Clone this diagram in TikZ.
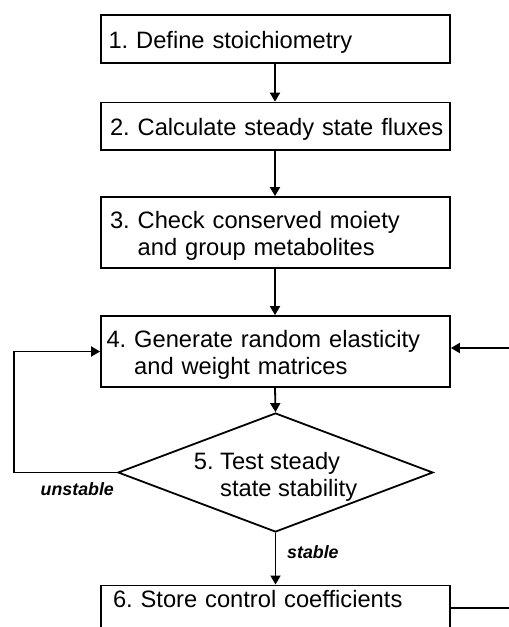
\documentclass[tikz,border=0pt]{standalone}
\usepackage{fontspec}
\setmainfont{Liberation Sans}
\usetikzlibrary{arrows.meta,shapes.geometric}
\frenchspacing
\begin{document}
\begin{tikzpicture}[x=1pt,y=-1pt,
  lw/.style={line width=1.8pt},
  box/.style={draw,lw,rectangle,align=left,text width=#1,inner ysep=0pt,font=\fontsize{23.7}{27}\selectfont\frenchspacing},
  box/.default=333pt,
  arr/.style={lw,-{Triangle[width=10pt,length=9pt]}},
  conn/.style={lw},
  lab/.style={font=\fontsize{17.8}{20}\selectfont\bfseries\itshape,inner sep=0pt,anchor=base west}]
\useasboundingbox (0,0) rectangle (509,627);

\node[box=334pt,inner xsep=7.5pt,minimum height=48pt,text height=19pt,text depth=0pt] (b1) at (275.5,39) {1. Define stoichiometry};
\node[box=331pt,inner xsep=9pt,minimum height=47.5pt,text height=19pt,text depth=0pt] (b2) at (275.5,126.3) {\mbox{2. Calculate steady state fluxes}};
\node[box=331pt,inner xsep=9pt,minimum height=71pt,text height=19pt,text depth=27pt] (b3) at (275.5,232.5) {3. Check conserved moiety\\\hphantom{3. }and group metabolites};
\node[box=338pt,inner xsep=5.5pt,minimum height=71pt,text height=19pt,text depth=27pt] (b4) at (275.5,351.5) {4. Generate random elasticity\\\hphantom{4. }and weight matrices};
\node[diamond,draw,lw,shape aspect=2.65,minimum width=315pt,minimum height=119pt,inner sep=0pt,align=left,text height=47pt,text depth=0pt,font=\fontsize{23.7}{27}\selectfont\frenchspacing] (d) at (275.5,472.5) {5. Test steady\\\hphantom{5. }state stability};
\node[box=325pt,inner xsep=12pt,text height=22.5pt,text depth=48pt,anchor=north] (b6) at (275.5,584.5) {6. Store control coefficients};

\draw[arr] (b1.south -| 275,0) -- (b2.north -| 275,0);
\draw[arr] (b2.south -| 275,0) -- (b3.north -| 275,0);
\draw[arr] (b3.south -| 275,0) -- (b4.north -| 275,0);
\draw[arr] (b4.south -| 275,0) -- (d.north);
\draw[arr] (d.south) -- (b6.north -| d.south);

\coordinate (lc) at (14,0);
\draw[arr] (d.west) -- (d.west -| lc) |- (b4.west);
\node[lab] (unst) at (40.5,495) {unstable};
\node[lab] (st) at (287,558) {stable};

\coordinate (rin) at (512,348);
\draw[arr] (rin) -- (rin -| b4.east);
\coordinate (rout) at (512,607.7);
\draw[conn] (rout -| b6.east) -- (rout);
\end{tikzpicture}
\end{document}
